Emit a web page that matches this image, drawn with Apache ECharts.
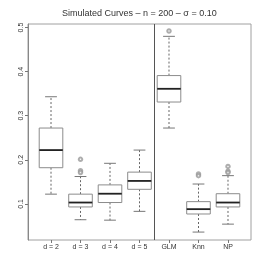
<!DOCTYPE html>
<html>
<head>
<meta charset="utf-8">
<script src="https://cdn.jsdelivr.net/npm/echarts@6/dist/echarts.min.js"></script>
<style>html,body{margin:0;padding:0;background:#fff;}#c{width:266px;height:271px;}</style>
</head>
<body>
<div id="c"></div>
<script>
const categories = ['d = 2', 'd = 3', 'd = 4', 'd = 5', 'GLM', 'Knn', 'NP'];
const whiskerLow  = [0.122, 0.064, 0.063, 0.083, 0.272, 0.036, 0.054];
const q1          = [0.182, 0.093, 0.103, 0.133, 0.331, 0.077, 0.093];
const median      = [0.222, 0.103, 0.123, 0.152, 0.361, 0.088, 0.103];
const q3          = [0.272, 0.122, 0.143, 0.172, 0.391, 0.105, 0.123];
const whiskerHigh = [0.343, 0.162, 0.192, 0.222, 0.480, 0.145, 0.164];
const outlierCat  = [2, 2, 2, 5, 6, 6, 7, 7, 7];
const outlierVal  = [0.201, 0.175, 0.171, 0.492, 0.168, 0.164, 0.185, 0.174, 0.171];
const yTicks = [0.1, 0.2, 0.3, 0.4, 0.5];
const xTicks = [1, 2, 3, 4, 5, 6, 7];
const separatorAt = 4.5;

const boxData = categories.map((c, i) => [i + 1, whiskerLow[i], q1[i], median[i], q3[i], whiskerHigh[i]]);
const outData = outlierCat.map((c, i) => [c, outlierVal[i]]);

const chart = echarts.init(document.getElementById('c'), null, {renderer: 'canvas'});
chart.setOption({
  animation: false,
  backgroundColor: '#fff',
  title: {
    text: 'Simulated Curves \u2013 n = 200 \u2013 \u03c3 = 0.10',
    left: 62, top: 9, padding: 0,
    textStyle: {fontFamily: 'Liberation Sans', fontSize: 9, fontWeight: 'normal', color: '#333'}
  },
  grid: {left: 28, right: 15, top: 24, bottom: 31, show: true, borderColor: '#a0a0a0', borderWidth: 1, backgroundColor: 'transparent'},
  xAxis: {
    type: 'value', min: 0.22, max: 7.78,
    axisLine: {show: false},
    splitLine: {show: false},
    axisTick: {show: true, length: 3, customValues: xTicks, lineStyle: {color: '#777'}},
    axisLabel: {
      customValues: xTicks, margin: 4, fontSize: 7, color: '#333', fontFamily: 'Liberation Sans',
      formatter: v => categories[Math.round(v) - 1] || ''
    }
  },
  yAxis: {
    type: 'value', min: 0.018, max: 0.508,
    axisLine: {show: true, lineStyle: {color: '#888'}},
    splitLine: {show: false},
    axisTick: {show: true, length: 3, customValues: yTicks, lineStyle: {color: '#777'}},
    axisLabel: {
      customValues: yTicks, rotate: 90, margin: 3, fontSize: 7, color: '#333', fontFamily: 'Liberation Sans',
      formatter: v => v.toFixed(1)
    }
  },
  series: [
    {
      type: 'custom',
      data: boxData,
      encode: {x: 0, y: [1, 2, 3, 4, 5]},
      renderItem: function (params, api) {
        const x = api.value(0);
        const half = api.size([0.8, 0])[0] / 2;
        const cap = half / 2;
        const pLo = api.coord([x, api.value(1)]);
        const pQ1 = api.coord([x, api.value(2)]);
        const pMd = api.coord([x, api.value(3)]);
        const pQ3 = api.coord([x, api.value(4)]);
        const pHi = api.coord([x, api.value(5)]);
        const cx = pLo[0];
        const whisk = {stroke: '#666', lineWidth: 1, lineDash: [2, 2]};
        const solid = {stroke: '#777', lineWidth: 1};
        return {
          type: 'group',
          children: [
            {type: 'line', shape: {x1: cx, y1: pQ3[1], x2: cx, y2: pHi[1]}, style: whisk},
            {type: 'line', shape: {x1: cx, y1: pQ1[1], x2: cx, y2: pLo[1]}, style: whisk},
            {type: 'line', shape: {x1: cx - cap, y1: pHi[1], x2: cx + cap, y2: pHi[1]}, style: solid},
            {type: 'line', shape: {x1: cx - cap, y1: pLo[1], x2: cx + cap, y2: pLo[1]}, style: solid},
            {type: 'rect', shape: {x: cx - half, y: pQ3[1], width: 2 * half, height: pQ1[1] - pQ3[1]},
             style: {fill: '#fff', stroke: '#8c8c8c', lineWidth: 1}},
            {type: 'line', shape: {x1: cx - half, y1: pMd[1], x2: cx + half, y2: pMd[1]},
             style: {stroke: '#222', lineWidth: 1.8}}
          ]
        };
      },
      markLine: {
        silent: true, symbol: 'none', label: {show: false},
        lineStyle: {color: '#555', width: 1, type: 'solid'},
        data: [{xAxis: separatorAt}]
      }
    },
    {
      type: 'scatter',
      data: outData,
      symbol: 'emptyCircle',
      symbolSize: 3.5,
      itemStyle: {color: '#999', borderColor: '#999', borderWidth: 0.6}
    }
  ]
});
</script>
</body>
</html>
